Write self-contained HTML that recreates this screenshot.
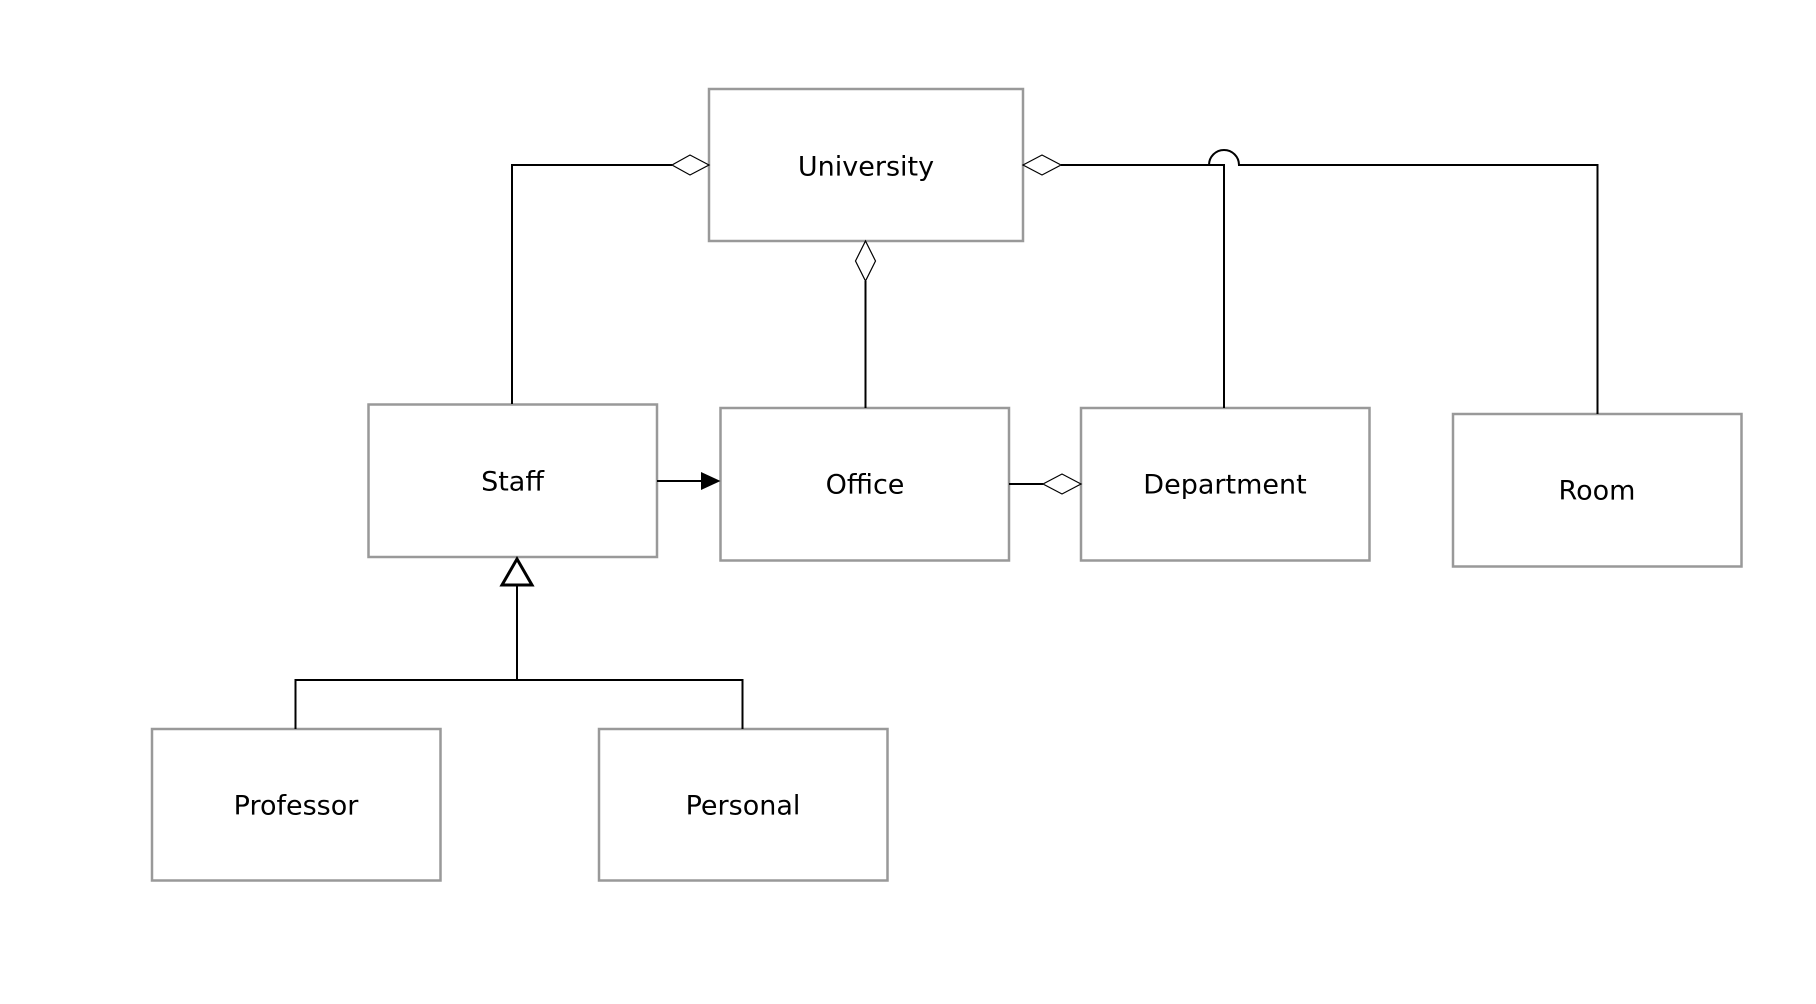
<!DOCTYPE html>
<html><head><meta charset="utf-8"><style>
html,body{margin:0;padding:0;background:#fff;}
svg{display:block}
text{font-family:"DejaVu Sans","Liberation Sans",sans-serif;font-size:27px;fill:#000;text-anchor:middle;dominant-baseline:central}
</style></head><body>
<svg width="1816" height="1004" viewBox="0 0 1816 1004" xmlns="http://www.w3.org/2000/svg">
<g fill="#fff" stroke="#999" stroke-width="2.5">
<rect x="709" y="89" width="314" height="152"/>
<rect x="368.5" y="404.5" width="288.5" height="152.5"/>
<rect x="720.5" y="408" width="288.5" height="152.5"/>
<rect x="1081" y="408" width="288.5" height="152.5"/>
<rect x="1453" y="414" width="288.5" height="152.5"/>
<rect x="152" y="729" width="288.5" height="151.5"/>
<rect x="599" y="729" width="288.5" height="151.5"/>
</g>
<g fill="none" stroke="#000" stroke-width="2">
<polyline points="672,165 512,165 512,404"/>
<polyline points="1061,165 1224,165 1224,408"/>
<path d="M1209,165 A15,15 0 0 1 1239,165 L1597.5,165 L1597.5,414"/>
<line x1="865.5" y1="281" x2="865.5" y2="408"/>
<line x1="657" y1="481" x2="702" y2="481"/>
<line x1="1009" y1="484" x2="1043" y2="484"/>
<polyline points="295.5,729 295.5,680 742.5,680 742.5,729"/>
<line x1="517" y1="585" x2="517" y2="680"/>
</g>
<g fill="#fff" stroke="#000" stroke-width="1.2">
<polygon points="709,165 690,155 672,165 690,175"/>
<polygon points="1023,165 1042,155 1061,165 1042,175"/>
<polygon points="865.5,241 875.5,261 865.5,281 855.5,261"/>
<polygon points="1081,484 1062,474 1043,484 1062,494"/>
</g>
<polygon points="720.5,481 701,472 701,490" fill="#000"/>
<polygon points="517,559 502,585 532,585" fill="#fff" stroke="#000" stroke-width="3"/>
<text x="866" y="167">University</text>
<text x="512.5" y="482">Staff</text>
<text x="865" y="485">Office</text>
<text x="1225" y="485">Department</text>
<text x="1597" y="491">Room</text>
<text x="296" y="806">Professor</text>
<text x="743" y="806">Personal</text>
</svg>
</body></html>
